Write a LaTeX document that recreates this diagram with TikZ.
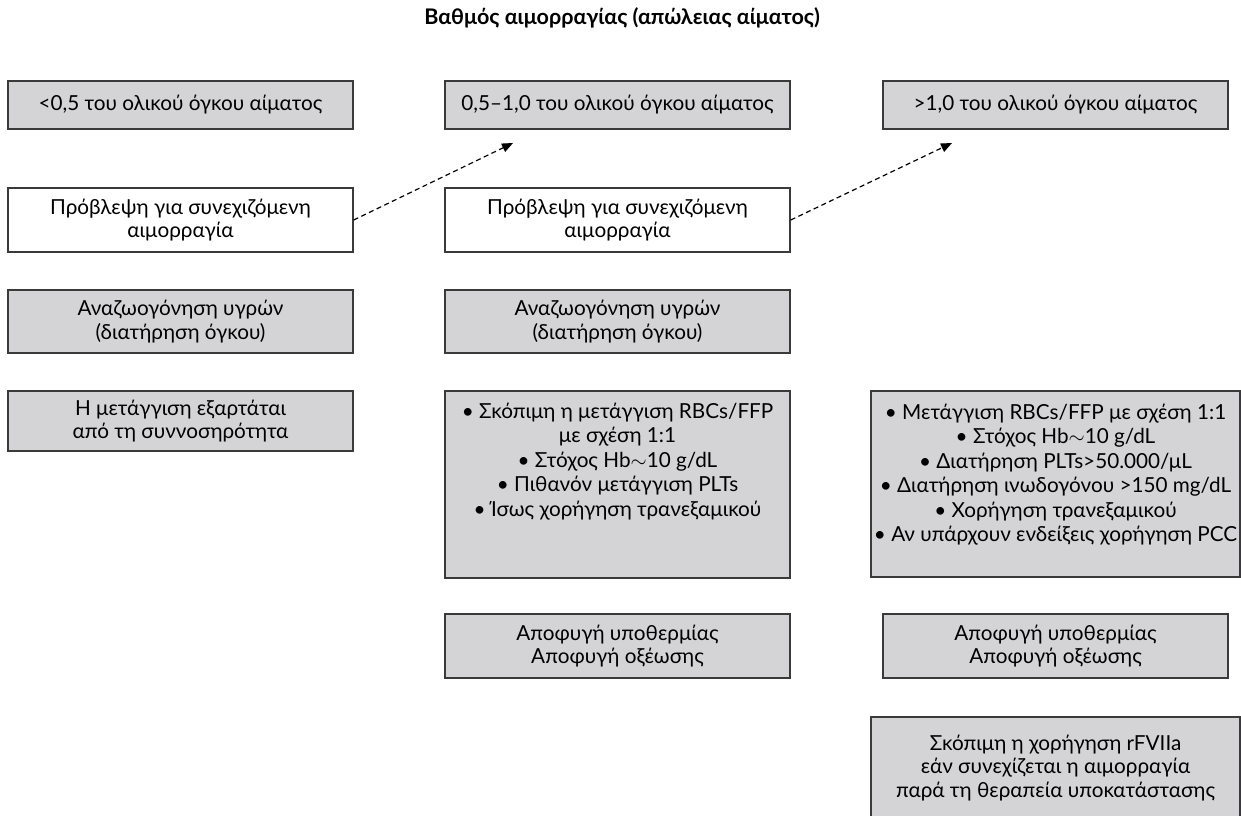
\documentclass[tikz,border=0pt]{standalone}
\usepackage{fontspec}
\setmainfont{Lato}
\usetikzlibrary{arrows.meta}
\tikzset{
	greybox/.style={draw=boxline,fill=boxgrey,line width=1.4pt,align=center,inner sep=0pt,minimum width=345pt,font=\fontsize{20.7}{23.5}\selectfont},
	whitebox/.style={greybox,fill=white},
	forecast/.style={dash pattern=on 5pt off 3.5pt,line width=1.2pt,-{Triangle[length=11pt,width=9pt]}}
}
\newcommand{\tallpart}[3]{\parbox[c][#1][t]{#2}{\centering\fontsize{20.7}{24.5}\selectfont #3}}

\begin{document}
\begin{tikzpicture}[x=1pt,y=-1pt]
					\definecolor{boxgrey}{HTML}{D4D4D6}
					\definecolor{boxline}{HTML}{3A3A3A}
					\useasboundingbox (0,0) rectangle (1241,815);
					\node[font=\bfseries\fontsize{21.5}{24}\selectfont] (title) at (622,18) {Βαθμός αιμορραγίας (απώλειας αίματος)};
					
					\node[greybox,minimum height=48pt] (low) at (180.5,105) {<0,5 του ολικού όγκου αίματος};
					\node[greybox,minimum height=48pt] (mid) at (617.5,105) {0,5–1,0 του ολικού όγκου αίματος};
					\node[greybox,minimum height=48pt] (high) at (1055.5,105) {>1,0 του ολικού όγκου αίματος};
					
					\node[whitebox,minimum height=64pt] (keepona) at (180.5,220) {Πρόβλεψη για συνεχιζόμενη\\αιμορραγία};
					\node[whitebox,minimum height=64pt] (keeponb) at (617.5,220) {Πρόβλεψη για συνεχιζόμενη\\αιμορραγία};
					\coordinate (tipa) at (513,143);
					\coordinate (tipb) at (952,143);
					\draw[forecast] (keepona.east) -- (tipa);
					\draw[forecast] (keeponb.east) -- (tipb);
					
					\node[greybox,minimum height=63pt] (fluida) at (180.5,321.5) {Αναζωογόνηση υγρών\\(διατήρηση όγκου)};
					\node[greybox,minimum height=63pt] (fluidb) at (617.5,321.5) {Αναζωογόνηση υγρών\\(διατήρηση όγκου)};
					
					\node[greybox,minimum height=60pt] (transa) at (180.5,421) {Η μετάγγιση εξαρτάται\\από τη συννοσηρότητα};
					\node[greybox,inner ysep=12pt] (transb) at (617.5,484.5) {\tallpart{163pt}{345pt}{• Σκόπιμη η μετάγγιση RBCs/FFP\\με σχέση 1:1\\• Στόχος Hb$\sim$10 g/dL\\• Πιθανόν μετάγγιση PLTs\\• Ίσως χορήγηση τρανεξαμικού}};
					\node[greybox,minimum width=369pt,inner ysep=13pt] (transc) at (1055.5,484) {\tallpart{160pt}{369pt}{• Μετάγγιση RBCs/FFP με σχέση 1:1\\• Στόχος Hb$\sim$10 g/dL\\• Διατήρηση PLTs>50.000/μL\\• Διατήρηση ινωδογόνου >150 mg/dL\\• Χορήγηση τρανεξαμικού\\• Αν υπάρχουν ενδείξεις χορήγηση PCC}};
					
					\node[greybox,minimum height=64pt] (warmb) at (617.5,646) {Αποφυγή υποθερμίας\\Αποφυγή οξέωσης};
					\node[greybox,minimum height=64pt] (warmc) at (1055.5,646) {Αποφυγή υποθερμίας\\Αποφυγή οξέωσης};
					
					\node[greybox,minimum width=369pt,minimum height=102pt] (factor) at (1055.5,768) {Σκόπιμη η χορήγηση rFVIIa\\εάν συνεχίζεται η αιμορραγία\\παρά τη θεραπεία υποκατάστασης};
				\end{tikzpicture}
\end{document}
